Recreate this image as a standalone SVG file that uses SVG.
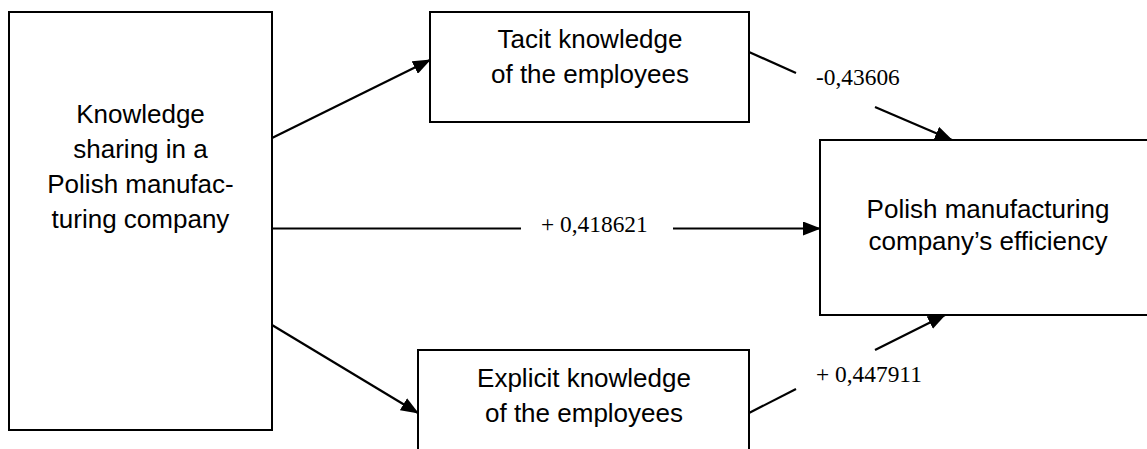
<svg xmlns="http://www.w3.org/2000/svg" width="1147" height="449" viewBox="0 0 1147 449">
<defs>
<style>
.box{fill:#fff;stroke:#000;stroke-width:2}
.t{font-family:"Liberation Sans",Arial,sans-serif;font-size:26px;fill:#000;text-anchor:middle}
.n{font-family:"Liberation Serif","Times New Roman",serif;font-size:23.4px;fill:#000}
.c{stroke:#000;stroke-width:2.2;fill:none}
</style>
<marker id="ah" viewBox="0 0 18 14" refX="17" refY="7" markerWidth="18" markerHeight="14" markerUnits="userSpaceOnUse" orient="auto">
<path d="M0,0 L18,7 L0,14 z" fill="#000"/>
</marker>
</defs>
<rect width="1147" height="449" fill="#fff"/>
<g id="node-sharing">
<rect class="box" x="9" y="12" width="263" height="418"/>
<text class="t" x="140.5" y="123">Knowledge</text>
<text class="t" x="140.5" y="158">sharing in a</text>
<text class="t" x="140.5" y="193">Polish manufac-</text>
<text class="t" x="140.5" y="228">turing company</text>
</g>
<g id="node-tacit">
<rect class="box" x="430" y="12" width="319" height="110"/>
<text class="t" x="590" y="48">Tacit knowledge</text>
<text class="t" x="590" y="83">of the employees</text>
</g>
<g id="node-explicit">
<rect class="box" x="418" y="350" width="331" height="120"/>
<text class="t" x="584" y="387">Explicit knowledge</text>
<text class="t" x="584" y="422">of the employees</text>
</g>
<g id="node-efficiency">
<rect class="box" x="820" y="140" width="340" height="175"/>
<text class="t" x="988" y="218">Polish manufacturing</text>
<text class="t" x="988" y="250">company’s efficiency</text>
</g>
<g id="connectors">
<line class="c" x1="272" y1="138" x2="430" y2="60" marker-end="url(#ah)"/>
<line class="c" x1="272" y1="325" x2="418" y2="413" marker-end="url(#ah)"/>
<line class="c" x1="272" y1="228.5" x2="521" y2="228.5"/>
<line class="c" x1="673" y1="228.5" x2="820" y2="228.5" marker-end="url(#ah)"/>
<line class="c" x1="749" y1="52" x2="796" y2="73"/>
<line class="c" x1="875" y1="107" x2="952" y2="140" marker-end="url(#ah)"/>
<line class="c" x1="749" y1="413" x2="796" y2="389"/>
<line class="c" x1="875" y1="350" x2="945" y2="315" marker-end="url(#ah)"/>
<text class="n" x="541" y="232">+ 0,418621</text>
<text class="n" x="816" y="85">-0,43606</text>
<text class="n" x="816" y="382">+ 0,447911</text>
</g>
</svg>
